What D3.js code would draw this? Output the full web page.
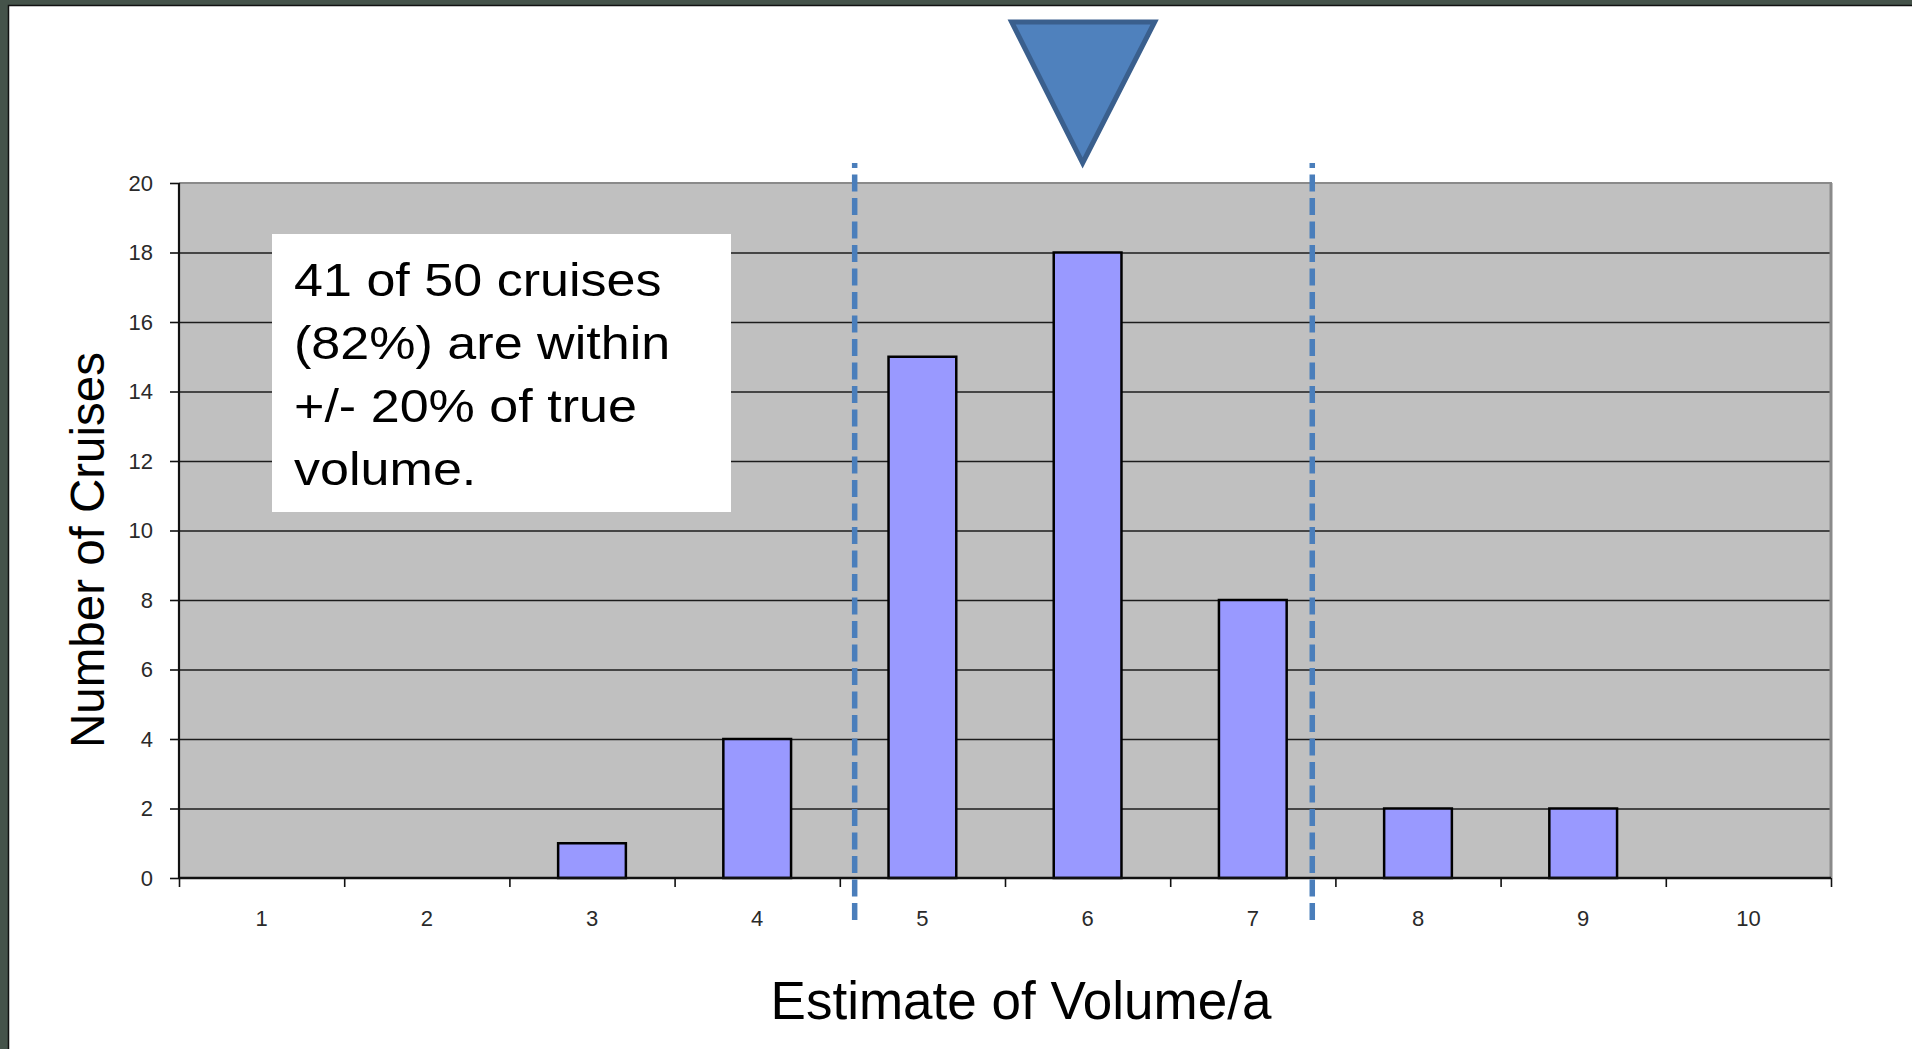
<!DOCTYPE html>
<html>
<head>
<meta charset="utf-8">
<script src="https://cdn.jsdelivr.net/npm/d3@7"></script>
<style>
	html, body { margin: 0; padding: 0; background: #ffffff; overflow: hidden; }
	svg { display: block; }
	.tick text { font-family: "Liberation Sans", Arial, sans-serif; font-size: 22px; fill: #2a2a2a; }
</style>
</head>
<body>
<div id="chart"></div>
<script>
"use strict"

// chart values
var categories = ["1", "2", "3", "4", "5", "6", "7", "8", "9", "10"];
var cruiseCounts = [0, 0, 1, 4, 15, 18, 8, 2, 2, 0];
var yTicks = [0, 2, 4, 6, 8, 10, 12, 14, 16, 18, 20];
var trueVolume = [5.97];
var boundLines = [4.59, 7.36];
var noteLines = ["41 of 50 cruises", "(82%) are within", "+/- 20% of true", "volume."];
var xTitle = "Estimate of Volume/a";
var yTitle = "Number of Cruises";

var W = 1912, H = 1049;
var plot = {left: 179, top: 183, right: 1831, bottom: 878};

var svg = d3.select("#chart").append("svg")
	.attr("width", W)
	.attr("height", H);

// slide frame
svg.append("rect")
	.attr("x", 0).attr("y", 0)
	.attr("width", W).attr("height", H)
	.attr("fill", "#45534a");
svg.append("rect")
	.attr("x", 8.5).attr("y", 5.5)
	.attr("width", W).attr("height", H)
	.attr("fill", "#ffffff")
	.attr("stroke", "#111111")
	.attr("stroke-width", 1.5);

// scales
var x = d3.scaleBand()
	.domain(categories)
	.range([plot.left, plot.right])
	.paddingInner(0.59)
	.paddingOuter(0.295);
var xv = d3.scaleLinear()
	.domain([0.5, 10.5])
	.range([plot.left, plot.right]);
var y = d3.scaleLinear()
	.domain([0, 20])
	.range([plot.bottom, plot.top]);

// plot background
svg.append("rect")
	.attr("x", plot.left).attr("y", plot.top)
	.attr("width", plot.right - plot.left)
	.attr("height", plot.bottom - plot.top)
	.attr("fill", "#c0c0c0");

// gridlines
var grid = svg.append("g")
	.attr("transform", "translate(" + plot.left + ",0)")
	.call(d3.axisLeft(y)
		.tickValues(yTicks.filter(function(d) { return d > 0 && d < 20; }))
		.tickSize(-(plot.right - plot.left))
		.tickFormat(""));
grid.select(".domain").remove();
grid.selectAll(".tick line")
	.attr("stroke", "#1c1c1c")
	.attr("stroke-width", 1.6);

// top and right edges of plot area
svg.append("line")
	.attr("x1", plot.left).attr("x2", plot.right + 1)
	.attr("y1", y(20)).attr("y2", y(20))
	.attr("stroke", "#8a8a8a").attr("stroke-width", 2);
svg.append("line")
	.attr("x1", plot.right).attr("x2", plot.right)
	.attr("y1", y(20)).attr("y2", plot.bottom)
	.attr("stroke", "#8a8a8a").attr("stroke-width", 3);

// bars
svg.append("g").selectAll("rect")
	.data(cruiseCounts)
	.enter().append("rect")
	.attr("x", function(d, i) { return x(categories[i]); })
	.attr("y", function(d) { return y(d); })
	.attr("width", x.bandwidth())
	.attr("height", function(d) { return y(0) - y(d); })
	.attr("fill", "#9999ff")
	.attr("stroke", "#000000")
	.attr("stroke-width", 2.5)
	.style("display", function(d) { return d > 0 ? null : "none"; });

// y axis
var yAxis = svg.append("g")
	.attr("transform", "translate(" + plot.left + ",0)")
	.call(d3.axisLeft(y).tickValues(yTicks).tickSize(9).tickPadding(17));
yAxis.select(".domain")
	.attr("d", "M0," + plot.top + "V" + plot.bottom)
	.attr("stroke", "#111111").attr("stroke-width", 2.2);
yAxis.selectAll(".tick line").attr("stroke", "#111111").attr("stroke-width", 1.6);

// x axis: ticks at category boundaries
var xTickAxis = svg.append("g")
	.attr("transform", "translate(0," + plot.bottom + ")")
	.call(d3.axisBottom(xv)
		.tickValues(d3.range(0.5, 11, 1))
		.tickSize(9)
		.tickFormat(""));
xTickAxis.select(".domain")
	.attr("d", "M" + plot.left + ",0H" + plot.right)
	.attr("stroke", "#111111").attr("stroke-width", 2.4);
xTickAxis.selectAll(".tick line").attr("stroke", "#111111").attr("stroke-width", 1.6);

// x axis labels at category centres
var xLabelAxis = svg.append("g")
	.attr("transform", "translate(0," + plot.bottom + ")")
	.call(d3.axisBottom(x).tickSize(0).tickPadding(32));
xLabelAxis.select(".domain").remove();

// dashed bound lines
svg.append("g").selectAll("line")
	.data(boundLines)
	.enter().append("line")
	.attr("x1", function(d) { return xv(d); })
	.attr("x2", function(d) { return xv(d); })
	.attr("y1", 163)
	.attr("y2", 921)
	.attr("stroke", "#4a7ebb")
	.attr("stroke-width", 5.5)
	.attr("stroke-dasharray", "17,6.5")
	.attr("stroke-dashoffset", 12);

// true volume marker
svg.append("g").selectAll("path")
	.data(trueVolume)
	.enter().append("path")
	.attr("d", function(d) {
		var cx = xv(d);
		return "M" + (cx - 71) + ",22L" + (cx + 72) + ",22L" + cx + ",163Z";
	})
	.attr("fill", "#4f81bd")
	.attr("stroke", "#3a5f8d")
	.attr("stroke-width", 5)
	.attr("stroke-linejoin", "miter");

// annotation box
svg.append("rect")
	.attr("x", 272).attr("y", 234)
	.attr("width", 459).attr("height", 278)
	.attr("fill", "#ffffff");
var note = svg.append("g")
	.attr("transform", "translate(294,0) scale(1.12,1)");
note.selectAll("text")
	.data(noteLines)
	.enter().append("text")
	.attr("x", 0)
	.attr("y", function(d, i) { return 296 + i * 63; })
	.style("font-family", "'Liberation Sans', Arial, sans-serif")
	.style("font-size", "46.5px")
	.attr("fill", "#000000")
	.text(function(d) { return d; });

// axis titles
svg.append("text")
	.attr("x", (plot.left + plot.right) / 2 + 16)
	.attr("y", 1019)
	.attr("text-anchor", "middle")
	.style("font-family", "'Liberation Sans', Arial, sans-serif")
	.style("font-size", "53px")
	.attr("fill", "#000000")
	.text(xTitle);

svg.append("text")
	.attr("transform", "translate(104,550) rotate(-90)")
	.attr("text-anchor", "middle")
	.style("font-family", "'Liberation Sans', Arial, sans-serif")
	.style("font-size", "47.5px")
	.attr("fill", "#000000")
	.text(yTitle);
</script>
</body>
</html>
